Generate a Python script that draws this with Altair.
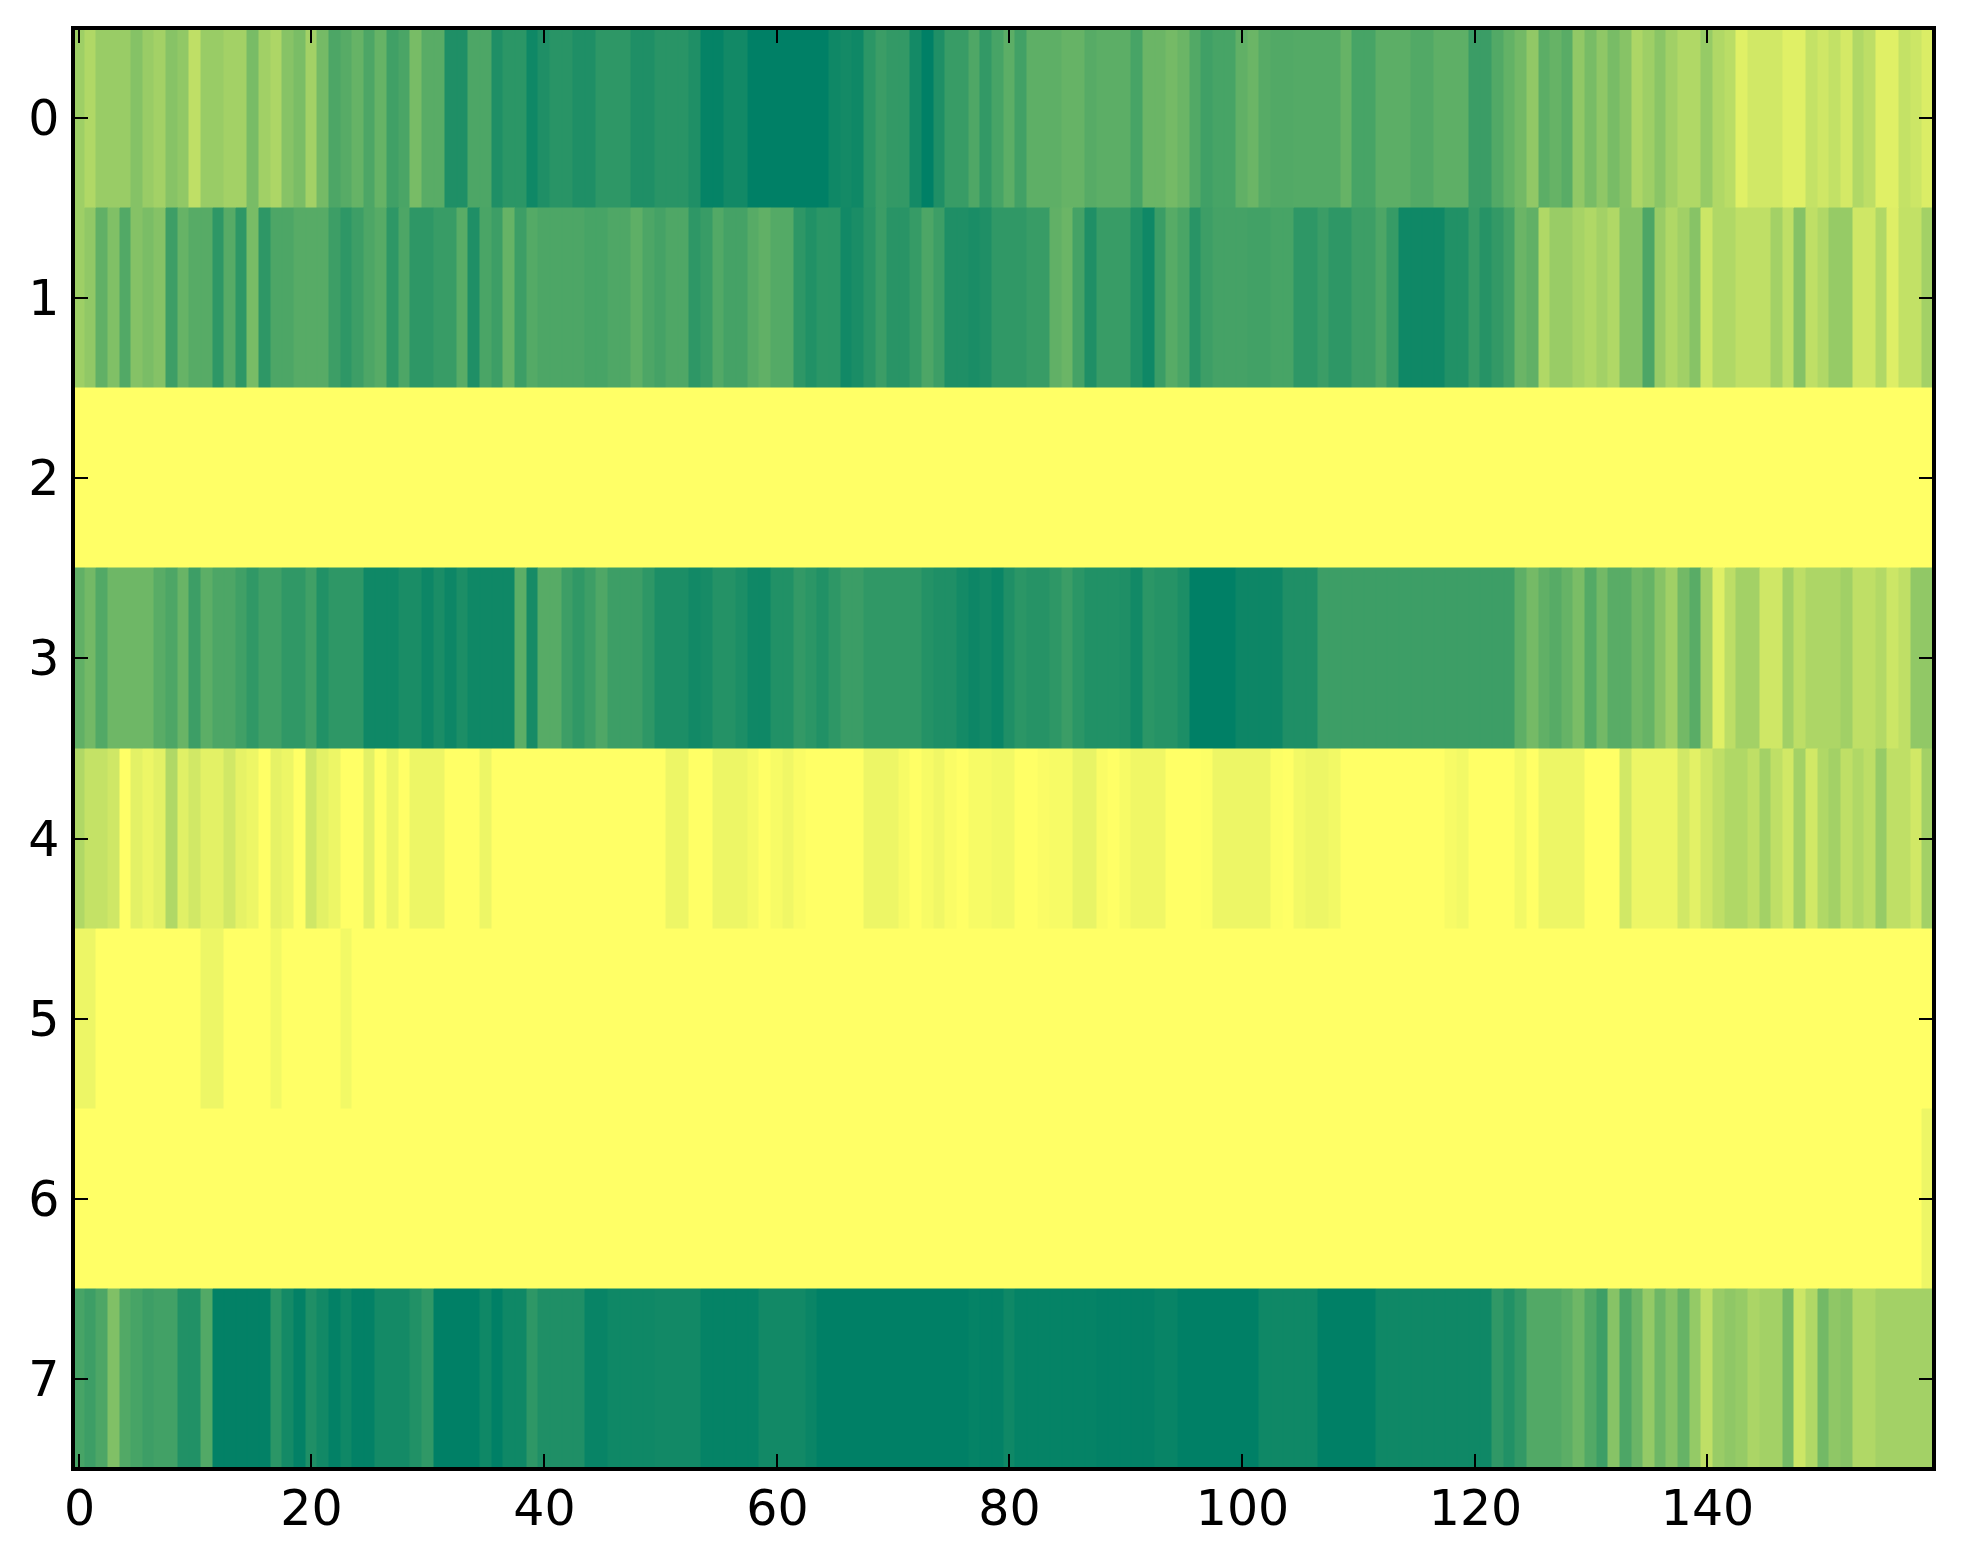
import altair as alt
import pandas as pd

alt.data_transformers.disable_max_rows()

row_0 = [
 .38,.31,.40,.40,.40,.48,.40,.36,.47,.43,
 .25,.40,.40,.36,.36,.53,.37,.32,.47,.52,
 .36,.54,.70,.66,.60,.70,.60,.75,.71,.53,
 .65,.65,.88,.88,.70,.70,.88,.83,.83,.94,
 .88,.84,.84,.88,.88,.82,.82,.82,.88,.88,
 .84,.84,.84,.88,.98,.98,.93,.93,1,1,
 1,1,1,1,1,.94,.92,.94,.83,.77,
 .8,.8,.92,1,.88,.78,.78,.69,.8,.72,
 .64,.74,.63,.63,.63,.6,.6,.66,.64,.64,
 .64,.72,.58,.58,.54,.58,.68,.75,.72,.72,
 .62,.58,.66,.68,.68,.67,.67,.67,.67,.6,
 .72,.72,.64,.64,.64,.68,.68,.63,.63,.63,
 .77,.77,.68,.61,.55,.43,.64,.60,.65,.43,
 .53,.44,.53,.47,.32,.38,.46,.37,.31,.31,
 .41,.31,.27,.12,.18,.18,.18,.12,.12,.23,
 .19,.24,.17,.31,.26,.12,.12,.23,.2,.14]
row_1 = [
 .38,.43,.62,.5,.68,.48,.52,.48,.76,.6,
 .66,.66,.82,.66,.82,.53,.82,.7,.7,.66,
 .66,.66,.76,.82,.76,.7,.66,.82,.7,.82,
 .82,.78,.78,.65,.88,.71,.76,.6,.76,.67,
 .7,.7,.7,.7,.72,.72,.69,.69,.63,.7,
 .73,.69,.69,.82,.78,.68,.73,.73,.66,.62,
 .67,.67,.82,.87,.83,.83,.93,.9,.84,.77,
 .84,.84,.79,.7,.76,.88,.88,.9,.88,.81,
 .81,.81,.78,.78,.62,.58,.73,.88,.78,.78,
 .78,.87,.94,.77,.66,.71,.84,.76,.73,.73,
 .73,.74,.74,.72,.72,.82,.82,.77,.82,.82,
 .76,.76,.7,.79,.94,.94,.94,.94,.87,.87,
 .78,.85,.8,.74,.58,.62,.31,.4,.4,.35,
 .31,.36,.31,.48,.48,.7,.4,.31,.37,.47,
 .2,.31,.31,.25,.25,.25,.36,.25,.48,.25,
 .31,.41,.41,.19,.19,.31,.13,.24,.24,.36]
row_2 = [0] * 160
row_3 = [
 .62,.55,.68,.57,.57,.57,.57,.65,.7,.59,
 .76,.64,.7,.7,.75,.81,.75,.75,.81,.81,
 .75,.87,.82,.82,.82,.94,.94,.94,.9,.9,
 .95,.9,.95,.89,.94,.94,.94,.94,.64,.91,
 .66,.66,.76,.81,.76,.69,.76,.76,.76,.82,
 .89,.89,.89,.93,.91,.86,.86,.89,.94,.94,
 .87,.87,.8,.83,.87,.82,.77,.77,.81,.81,
 .81,.81,.81,.86,.88,.88,.92,.95,.93,.96,
 .88,.83,.85,.85,.82,.77,.83,.87,.87,.87,
 .88,.93,.83,.85,.85,.89,1,1,1,1,
 .95,.95,.95,.95,.88,.88,.88,.76,.76,.76,
 .76,.76,.76,.76,.76,.76,.76,.76,.76,.76,
 .76,.76,.76,.76,.63,.54,.62,.66,.6,.52,
 .67,.55,.65,.65,.56,.6,.47,.37,.55,.65,
 .37,.12,.26,.36,.36,.19,.19,.37,.26,.32,
 .32,.32,.37,.25,.25,.3,.2,.25,.43,.43]
row_4 = [
 .31,.23,.23,.19,0,.11,.07,.11,.31,.12,
 .18,.11,.11,.18,.1,.07,0,.1,.07,0,
 .19,.11,.07,0,0,.11,0,.07,0,.07,
 .07,.07,0,0,0,.07,0,0,0,0,
 0,0,0,0,0,0,0,0,0,0,
 0,.07,.07,0,0,.07,.07,.07,.04,0,
 .03,.06,.02,0,0,0,0,0,.07,.07,
 .07,.03,0,.03,.06,.02,0,.03,.03,.05,
 .05,0,0,.02,.03,.03,.09,.09,.02,0,
 .03,.06,.06,.06,0,0,0,.01,.07,.07,
 .07,.07,.07,.01,0,.05,.07,.07,.05,0,
 0,0,0,0,0,0,0,0,.03,.05,
 0,0,0,0,.05,0,.07,.07,.07,.07,
 0,0,0,.18,.07,.07,.07,.07,.18,.11,
 .19,.25,.31,.31,.25,.36,.25,.18,.36,.18,
 .31,.36,.25,.31,.26,.41,.25,.25,.18,.36]
row_5 = [
 .07,.07,0,0,0,0,0,0,0,0,
 0,.07,.07,0,0,0,0,.05,0,0,
 0,0,0,.05,0,0,0,0,0,0] + [0] * 130
row_6 = [0] * 159 + [.07]
row_7 = [
 .72,.76,.7,.5,.68,.72,.76,.74,.74,.87,
 .87,.68,.99,.99,.99,.99,.99,.83,.92,.99,
 .88,.93,.99,.94,.99,.99,.92,.92,.92,.87,
 .81,1,1,1,1,.94,1,.94,.94,.82,
 .88,.88,.88,.88,.97,.97,.94,.94,.94,.94,
 .93,.93,.93,.93,.98,.98,.98,.98,.98,.93,
 .93,.93,.93,.96,1,1,1,1,1,1,
 1,1,1,1,1,1,1,.98,.99,.99,
 .94,.98,.98,.98,.98,.98,.98,.98,.99,.99,
 .99,.99,.99,.97,.97,1,1,1,1,1,
 1,1,.94,.94,.94,.94,.94,1,1,1,
 1,1,.94,.94,.94,.94,.94,.94,.94,.94,
 .94,.94,.81,.87,.8,.68,.68,.68,.64,.57,
 .68,.76,.47,.7,.58,.42,.57,.47,.6,.42,
 .25,.4,.44,.41,.33,.36,.36,.54,.2,.31,
 .55,.44,.47,.31,.31,.36,.36,.36,.36,.36]

rows = [row_0, row_1, row_2, row_3, row_4, row_5, row_6, row_7]
x_ticks = [0, 20, 40, 60, 80, 100, 120, 140]
y_ticks = [0, 1, 2, 3, 4, 5, 6, 7]

W, H = 1861, 1441
TICK = 15
FONT = "DejaVu Sans"

cells = pd.DataFrame(
    [
        {"x": c - 0.5, "x2": c + 0.5, "y": r - 0.5, "y2": r + 0.5, "v": v}
        for r, row in enumerate(rows)
        for c, v in enumerate(row)
    ]
)

xs = alt.Scale(domain=[-0.5, 159.5], nice=False, zero=False, round=True)
ys = alt.Scale(domain=[-0.5, 7.5], nice=False, zero=False, reverse=True, round=True)
cs = alt.Scale(domain=[0, 1], range=["#ffff66", "#008066"], interpolate="rgb")

x_axis = alt.Axis(values=x_ticks, format="d", ticks=False, domain=False, grid=False,
                  labelFont=FONT, labelFontSize=49, labelColor="black",
                  labelPadding=16, labelFlush=False, labelOverlap=False, title=None)
y_axis = alt.Axis(values=y_ticks, format="d", ticks=False, domain=False, grid=False,
                  labelFont=FONT, labelFontSize=49, labelColor="black", labelOffset=1.5,
                  labelPadding=14, labelFlush=False, labelOverlap=False, title=None)

heat = (
    alt.Chart(cells)
    .mark_rect(opacity=1, strokeWidth=1)
    .encode(
        x=alt.X("x:Q", scale=xs, axis=x_axis),
        x2="x2:Q",
        y=alt.Y("y:Q", scale=ys, axis=y_axis),
        y2="y2:Q",
        color=alt.Color("v:Q", scale=cs, legend=None),
        stroke=alt.Stroke("v:Q", scale=cs, legend=None),
    )
)

xt = pd.DataFrame({"t": x_ticks})
yt = pd.DataFrame({"t": y_ticks})
tick_x = alt.X("t:Q", scale=xs, axis=x_axis)
tick_y = alt.Y("t:Q", scale=ys, axis=y_axis)

ticks_bottom = alt.Chart(xt).mark_rule(color="black", strokeWidth=2).encode(
    x=tick_x, y=alt.value(H - TICK), y2=alt.value(H))
ticks_top = alt.Chart(xt).mark_rule(color="black", strokeWidth=2).encode(
    x=tick_x, y=alt.value(0), y2=alt.value(TICK))
ticks_left = alt.Chart(yt).mark_rule(color="black", strokeWidth=2).encode(
    y=tick_y, x=alt.value(0), x2=alt.value(TICK))
ticks_right = alt.Chart(yt).mark_rule(color="black", strokeWidth=2).encode(
    y=tick_y, x=alt.value(W - TICK), x2=alt.value(W))
frame = alt.Chart(pd.DataFrame({"a": [0]})).mark_rect(
    fill=None, fillOpacity=0, stroke="black", strokeWidth=4
).encode(x=alt.value(0), x2=alt.value(W), y=alt.value(0), y2=alt.value(H))

chart = (
    alt.layer(heat, ticks_bottom, ticks_top, ticks_left, ticks_right, frame)
    .properties(
        width=W, height=H,
        autosize=alt.AutoSizeParams(type="none"),
        padding={"left": 65, "top": 20, "right": 20, "bottom": 80},
        background="white",
    )
    .configure_view(stroke=None)
)

chart.save("out.html", embed_options={"renderer": "svg", "actions": False})
